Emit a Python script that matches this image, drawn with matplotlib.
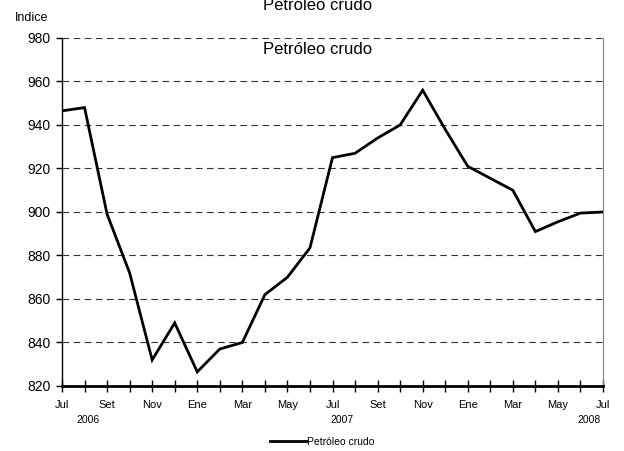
import matplotlib
matplotlib.use("Agg")
import matplotlib.pyplot as plt
import numpy as np

plt.rcParams['font.family'] = ['Liberation Sans', 'DejaVu Sans']

months = ["Jul", "Ago", "Set", "Oct", "Nov", "Dic", "Ene", "Feb", "Mar", "Abr", "May", "Jun",
          "Jul", "Ago", "Set", "Oct", "Nov", "Dic", "Ene", "Feb", "Mar", "Abr", "May", "Jun", "Jul"]
values = [946.5, 948, 899, 872, 832, 849, 826.5, 837, 840, 862, 870, 883.5,
          925, 927, 934, 940, 956, 938, 921, 915.5, 910, 891, 895.5, 899.5, 900]
years = ["2006", "2007", "2008"]
year_pos = [1.15, 12.4, 23.4]
series_name = "Petróleo crudo"

fig = plt.figure(figsize=(6.24, 4.51), dpi=100)
ax = fig.add_axes([62/624, 1-386/451, (603-62)/624, (386-38)/451])

x = np.arange(len(values))
ax.plot(x, values, color='black', lw=2, label=series_name, solid_joinstyle='miter')

ax.set_xlim(0, len(values)-1)
ax.set_ylim(820, 980)
ax.set_yticks(np.arange(820, 981, 20))
ax.yaxis.grid(True, linestyle=(0, (6, 4)), color='#333333', lw=0.8)
ax.set_axisbelow(True)

ax.set_xticks(x)
ax.set_xticklabels([m if i % 2 == 0 else "" for i, m in enumerate(months)], fontsize=8)
ax.tick_params(axis='x', direction='inout', length=8, width=1, pad=6)
ax.tick_params(axis='y', direction='out', length=4, width=1, labelsize=10, pad=4)

ax.spines['top'].set_visible(False)
ax.spines['right'].set_color('#808080')
ax.spines['bottom'].set_linewidth(2)
ax.spines['left'].set_linewidth(1)

for yr, p in zip(years, year_pos):
    ax.text(p, -0.097, yr, transform=ax.get_xaxis_transform(), ha='center', va='center', fontsize=7.5)

fig.text(318/624, 1-50/451, series_name, ha='center', va='center', fontsize=12)
fig.text(318/624, 1-6/451, series_name, ha='center', va='center', fontsize=12)
fig.text(32/624, 1-18/451, "Indice", ha='center', va='center', fontsize=9)

leg = fig.legend(loc='center', bbox_to_anchor=(322/624, 1-442/451), frameon=False, fontsize=7.5,
                 handlelength=3.5, handletextpad=0.0)

fig.savefig("out.png", dpi=100)
